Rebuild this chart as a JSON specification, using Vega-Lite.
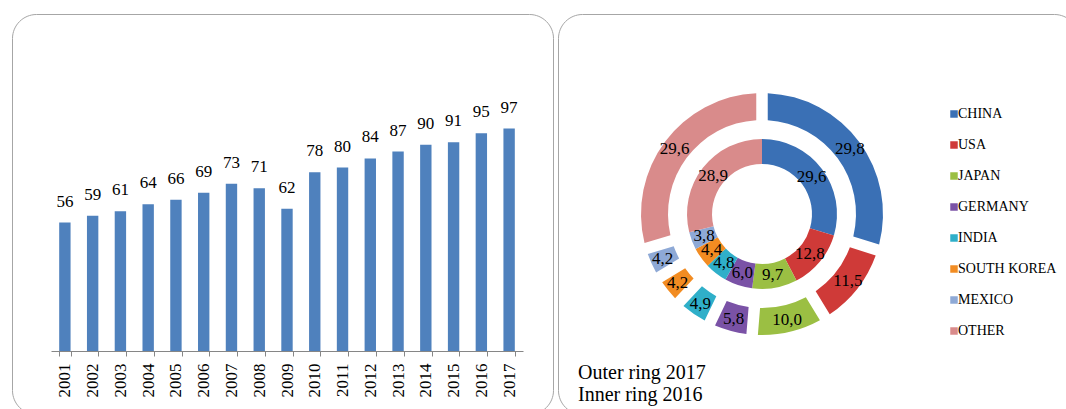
{
  "$schema": "https://vega.github.io/schema/vega-lite/v6.json",
  "padding": {"left": 2, "top": 13, "right": 0, "bottom": 0},
  "autosize": {"type": "pad"},
  "background": "white",
  "config": {
    "view": {"stroke": "#a6a6a6", "strokeWidth": 1, "cornerRadius": 24},
    "font": "Liberation Serif",
    "locale": {"number": {"decimal": ",", "thousands": ".", "grouping": [3], "currency": ["", ""]}},
    "concat": {"spacing": 3}
  },
  "resolve": {"legend": {"color": "independent"}, "scale": {"color": "independent"}},
  "hconcat": [
    {
      "width": 541,
      "height": 400,
      "data": {"values": [
        {"year": "2001", "value": 56}, {"year": "2002", "value": 59}, {"year": "2003", "value": 61},
        {"year": "2004", "value": 64}, {"year": "2005", "value": 66}, {"year": "2006", "value": 69},
        {"year": "2007", "value": 73}, {"year": "2008", "value": 71}, {"year": "2009", "value": 62},
        {"year": "2010", "value": 78}, {"year": "2011", "value": 80}, {"year": "2012", "value": 84},
        {"year": "2013", "value": 87}, {"year": "2014", "value": 90}, {"year": "2015", "value": 91},
        {"year": "2016", "value": 95}, {"year": "2017", "value": 97}
      ]},
      "encoding": {
        "x": {
          "field": "year", "type": "ordinal",
          "scale": {"range": [39, 511], "paddingInner": 0.59, "paddingOuter": 0.295},
          "axis": {
            "title": null, "labelAngle": 270, "labelAlign": "right", "labelBaseline": "middle",
            "labelFont": "Liberation Serif", "labelFontSize": 17, "labelColor": "black",
            "tickBand": "extent", "tickSize": 5, "tickColor": "#868686", "domainColor": "#868686",
            "labelPadding": 7, "offset": -63, "grid": false
          }
        },
        "y": {
          "field": "value", "type": "quantitative",
          "scale": {"domain": [-27.5, 147], "nice": false},
          "axis": null
        }
      },
      "layer": [
        {"mark": {"type": "bar", "color": "#4f81bd"}},
        {
          "mark": {"type": "text", "baseline": "alphabetic", "dy": -16, "fontSize": 17, "color": "black", "font": "Liberation Serif"},
          "encoding": {"text": {"field": "value", "type": "quantitative"}}
        }
      ]
    },
    {
      "width": 520,
      "height": 400,
      "view": {"stroke": "#a6a6a6", "strokeWidth": 1, "cornerRadius": 24, "fill": "white"},
      "title": {
        "text": ["Outer ring 2017", "Inner ring 2016"],
        "orient": "bottom", "anchor": "start", "offset": -51, "dx": 20,
        "font": "Liberation Serif", "fontSize": 20, "fontWeight": "normal", "lineHeight": 22, "color": "black"
      },
      "data": {"values": [
        {"country": "CHINA", "year": 2017, "share": 29.8, "rank": 1},
        {"country": "USA", "year": 2017, "share": 11.5, "rank": 2},
        {"country": "JAPAN", "year": 2017, "share": 10.0, "rank": 3},
        {"country": "GERMANY", "year": 2017, "share": 5.8, "rank": 4},
        {"country": "INDIA", "year": 2017, "share": 4.9, "rank": 5},
        {"country": "SOUTH KOREA", "year": 2017, "share": 4.2, "rank": 6},
        {"country": "MEXICO", "year": 2017, "share": 4.2, "rank": 7},
        {"country": "OTHER", "year": 2017, "share": 29.6, "rank": 8},
        {"country": "CHINA", "year": 2016, "share": 29.6, "rank": 1},
        {"country": "USA", "year": 2016, "share": 12.8, "rank": 2},
        {"country": "JAPAN", "year": 2016, "share": 9.7, "rank": 3},
        {"country": "GERMANY", "year": 2016, "share": 6.0, "rank": 4},
        {"country": "INDIA", "year": 2016, "share": 4.8, "rank": 5},
        {"country": "SOUTH KOREA", "year": 2016, "share": 4.4, "rank": 6},
        {"country": "MEXICO", "year": 2016, "share": 3.8, "rank": 7},
        {"country": "OTHER", "year": 2016, "share": 28.9, "rank": 8}
      ]},
      "encoding": {
        "theta": {"field": "share", "type": "quantitative", "stack": true, "scale": {"domain": [0, 100]}},
        "order": {"field": "rank", "type": "quantitative"}
      },
      "layer": [
        {
          "transform": [{"filter": "datum.year == 2017"}],
          "mark": {"type": "arc", "innerRadius": 94, "outerRadius": 121, "padAngle": 0.075, "x": 204},
          "encoding": {
            "color": {
              "field": "country", "type": "nominal",
              "scale": {
                "domain": ["CHINA", "USA", "JAPAN", "GERMANY", "INDIA", "SOUTH KOREA", "MEXICO", "OTHER"],
                "range": ["#3a70b5", "#cf3a38", "#9bbf43", "#7a52a6", "#2fafc9", "#f28c22", "#8ea9d6", "#d98b8b"]
              },
              "legend": {
                "title": null, "orient": "none", "legendX": 389, "legendY": 93,
                "symbolType": "square", "symbolSize": 56, "symbolStrokeWidth": 0,
                "labelFont": "Liberation Serif", "labelFontSize": 14, "labelColor": "black",
                "labelOffset": -3, "rowPadding": 17
              }
            }
          }
        },
        {
          "transform": [{"filter": "datum.year == 2017"}],
          "mark": {"type": "text", "radius": 109, "fontSize": 17, "color": "black", "font": "Liberation Serif", "x": 204},
          "encoding": {
            "text": {"field": "share", "type": "quantitative", "format": ".1f"},
            "detail": {"field": "country", "type": "nominal"}
          }
        },
        {
          "transform": [{"filter": "datum.year == 2016"}],
          "mark": {"type": "arc", "innerRadius": 50, "outerRadius": 75, "x": 204},
          "encoding": {
            "color": {
              "field": "country", "type": "nominal",
              "scale": {
                "domain": ["CHINA", "USA", "JAPAN", "GERMANY", "INDIA", "SOUTH KOREA", "MEXICO", "OTHER"],
                "range": ["#3a70b5", "#cf3a38", "#9bbf43", "#7a52a6", "#2fafc9", "#f28c22", "#8ea9d6", "#d98b8b"]
              },
              "legend": {
                "title": null, "orient": "none", "legendX": 389, "legendY": 93,
                "symbolType": "square", "symbolSize": 56, "symbolStrokeWidth": 0,
                "labelFont": "Liberation Serif", "labelFontSize": 14, "labelColor": "black",
                "labelOffset": -3, "rowPadding": 17
              }
            }
          }
        },
        {
          "transform": [{"filter": "datum.year == 2016"}],
          "mark": {"type": "text", "radius": 62, "fontSize": 17, "color": "black", "font": "Liberation Serif", "x": 204},
          "encoding": {
            "text": {"field": "share", "type": "quantitative", "format": ".1f"},
            "detail": {"field": "country", "type": "nominal"}
          }
        }
      ]
    }
  ]
}
